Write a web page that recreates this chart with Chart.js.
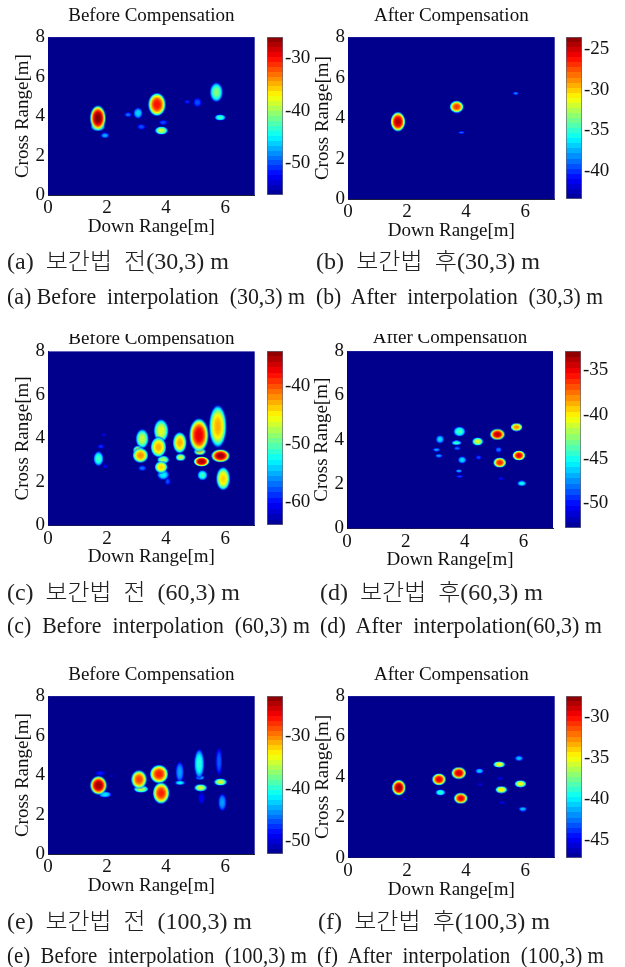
<!DOCTYPE html>
<html>
<head>
<meta charset="utf-8">
<title>ISAR images before and after compensation</title>
<script src="https://cdn.jsdelivr.net/npm/chart.js@4"></script>
<style>
    html, body { margin: 0; padding: 0; background: #fff; }
    body { position: relative; width: 625px; height: 967px; overflow: hidden; }
    canvas { position: absolute; filter: blur(0.4px); }
    .cap {
        position: absolute;
        white-space: pre;
        font-family: "Liberation Serif", "Noto Sans CJK KR", serif;
        font-size: 24px;
        font-weight: 300;
        line-height: 26px;
        color: #1a1a1a;
        transform-origin: left center;
        filter: blur(0.3px);
    }
    .cap.ko { font-size: 23px; color: #222; }
    .cover { position: absolute; background: #fff; }
</style>
</head>
<body>
<script>
// ===========================
// DATA
// ===========================

const downTicks = [0, 2, 4, 6];
const crossTicks = [0, 2, 4, 6, 8];

// Each scatterer: centre [m], half width / half height [m], peak level [dB]
const aX = [1.69, 1.69, 1.93, 2.71, 3.05, 3.16, 3.69, 3.90, 3.84, 4.72, 5.06, 5.70, 5.83];
const aY = [3.90, 3.48, 3.02, 4.07, 4.15, 3.46, 4.59, 3.68, 3.27, 4.73, 4.69, 5.21, 3.93];
const aW = [0.25, 0.22, 0.13, 0.11, 0.14, 0.12, 0.27, 0.14, 0.20, 0.08, 0.13, 0.20, 0.17];
const aH = [0.58, 0.22, 0.12, 0.10, 0.25, 0.12, 0.54, 0.10, 0.19, 0.08, 0.22, 0.46, 0.14];
const aPeak = [-26, -37, -47, -49, -46, -50, -30, -50, -39, -51, -50, -41, -43];
const aBar = [-56, -26];
const aBarTicks = [-30, -40, -50];

const bX = [1.69, 3.68, 3.68, 3.84, 5.68];
const bY = [3.82, 4.56, 4.28, 3.29, 5.23];
const bW = [0.23, 0.22, 0.08, 0.09, 0.10];
const bH = [0.44, 0.27, 0.06, 0.06, 0.06];
const bPeak = [-24.5, -27, -40, -39, -38];
const bBar = [-43.5, -23.5];
const bBarTicks = [-25, -30, -35, -40];

const cX = [1.71, 1.79, 1.89, 1.94, 3.19, 3.05, 3.13, 3.19, 3.83, 3.74, 3.90, 3.83, 3.90, 4.05, 4.46, 4.49, 5.11, 5.14, 5.20, 5.23, 5.75, 5.84, 5.93];
const cY = [3.07, 3.63, 4.17, 2.71, 3.98, 3.45, 3.22, 2.63, 4.35, 3.60, 3.02, 2.68, 2.33, 2.02, 3.80, 3.13, 4.15, 3.40, 2.94, 2.31, 4.55, 3.20, 2.15];
const cW = [0.15, 0.10, 0.05, 0.07, 0.20, 0.16, 0.24, 0.12, 0.23, 0.24, 0.18, 0.20, 0.18, 0.08, 0.22, 0.16, 0.30, 0.19, 0.25, 0.16, 0.27, 0.28, 0.22];
const cH = [0.30, 0.08, 0.06, 0.07, 0.40, 0.18, 0.30, 0.10, 0.49, 0.42, 0.16, 0.24, 0.20, 0.15, 0.45, 0.15, 0.70, 0.14, 0.20, 0.20, 0.90, 0.27, 0.48];
const cPeak = [-51, -59, -61, -60, -47, -45, -42, -57, -46, -43, -48, -44, -53, -58, -43, -47, -37, -45, -35, -51, -43, -35, -44];
const cBar = [-64, -34];
const cBarTicks = [-40, -50, -60];

const dX = [3.16, 3.04, 3.12, 3.82, 3.72, 3.74, 3.91, 3.80, 3.83, 4.44, 4.47, 5.11, 5.15, 5.19, 5.23, 5.76, 5.84, 5.94];
const dY = [4.02, 3.55, 3.28, 4.37, 3.86, 3.61, 3.09, 2.59, 2.35, 3.92, 3.20, 4.24, 3.55, 2.97, 2.26, 4.57, 3.29, 2.03];
const dW = [0.13, 0.11, 0.11, 0.18, 0.15, 0.10, 0.13, 0.10, 0.09, 0.17, 0.08, 0.23, 0.10, 0.20, 0.08, 0.19, 0.20, 0.14];
const dH = [0.17, 0.06, 0.06, 0.20, 0.08, 0.06, 0.14, 0.06, 0.05, 0.17, 0.09, 0.23, 0.10, 0.20, 0.05, 0.17, 0.20, 0.11];
const dPeak = [-46, -47, -47, -44, -44, -48, -46, -47, -49, -41, -49, -34, -48, -36, -50, -38, -35, -45];
const dBar = [-52.8, -32.8];
const dBarTicks = [-35, -40, -45, -50];

const eX = [1.71, 1.77, 2.15, 1.93, 3.08, 3.15, 3.76, 3.83, 4.46, 4.47, 5.12, 5.15, 5.17, 5.20, 5.79, 5.84, 5.90];
const eY = [3.48, 4.10, 3.93, 3.02, 3.78, 3.29, 4.05, 3.09, 4.15, 3.61, 4.57, 3.87, 3.36, 2.84, 4.69, 3.65, 2.62];
const eW = [0.26, 0.15, 0.04, 0.20, 0.25, 0.23, 0.28, 0.26, 0.12, 0.15, 0.16, 0.14, 0.20, 0.10, 0.10, 0.20, 0.12];
const eH = [0.42, 0.10, 0.04, 0.15, 0.42, 0.17, 0.42, 0.50, 0.50, 0.10, 0.70, 0.10, 0.17, 0.27, 0.65, 0.17, 0.40];
const ePeak = [-23, -48, -49, -42, -28, -36, -27, -27, -44, -41, -40, -43, -35, -49, -46, -35, -44];
const eBar = [-52.5, -22.3];
const eBarTicks = [-30, -40, -50];

const fX = [1.72, 1.92, 3.08, 3.13, 3.75, 3.82, 4.45, 4.47, 5.12, 5.15, 5.19, 5.22, 5.79, 5.84, 5.92];
const fY = [3.47, 2.89, 3.88, 3.23, 4.19, 2.94, 4.29, 3.63, 4.62, 3.94, 3.37, 2.71, 4.92, 3.66, 2.41];
const fW = [0.21, 0.05, 0.22, 0.15, 0.23, 0.21, 0.12, 0.07, 0.19, 0.09, 0.18, 0.09, 0.13, 0.18, 0.12];
const fH = [0.35, 0.04, 0.27, 0.14, 0.26, 0.24, 0.11, 0.05, 0.15, 0.05, 0.16, 0.05, 0.11, 0.16, 0.10];
const fPeak = [-28, -45, -29.5, -39, -29, -29.5, -41, -45, -35, -45, -34.5, -45, -41, -35, -41];
const fBar = [-47.2, -27.4];
const fBarTicks = [-30, -35, -40, -45];

// ===========================
// LAYOUT
// ===========================

const FONT = '"Liberation Serif", serif';
const FONT_SIZE = 19;
const TEXT = '#111';
const AXIS_W = 48;
const AXIS_H = 44;
const TITLE_H = 22.8;
const BAR_AXIS_W = 40;
const BAR_PAD = 14;
const SPOT_GROW = 1.15;

const panels = [
    { title: 'Before Compensation', left: 48.3, top: 36.7, w: 206.7, h: 158, barLeft: 266.5, gap: 9.3, xs: aX, ys: aY, ws: aW, hs: aH, peaks: aPeak, bar: aBar, barTicks: aBarTicks },
    { title: 'After Compensation', left: 348.3, top: 36.7, w: 206.7, h: 162, barLeft: 566.3, gap: 9.3, xs: bX, ys: bY, ws: bW, hs: bH, peaks: bPeak, bar: bBar, barTicks: bBarTicks },
    { title: 'Before Compensation', left: 48.3, top: 351, w: 206.7, h: 174, barLeft: 266.5, gap: 0.6, xs: cX, ys: cY, ws: cW, hs: cH, peaks: cPeak, bar: cBar, barTicks: cBarTicks },
    { title: 'After Compensation', left: 347.3, top: 351, w: 206.4, h: 177.3, barLeft: 565.3, gap: 1.3, xs: dX, ys: dY, ws: dW, hs: dH, peaks: dPeak, bar: dBar, barTicks: dBarTicks },
    { title: 'Before Compensation', left: 48.3, top: 695.7, w: 206.7, h: 158, barLeft: 266.5, gap: 9.3, xs: eX, ys: eY, ws: eW, hs: eH, peaks: ePeak, bar: eBar, barTicks: eBarTicks },
    { title: 'After Compensation', left: 348.3, top: 695.7, w: 206.7, h: 161.6, barLeft: 566.3, gap: 9.3, xs: fX, ys: fY, ws: fW, hs: fH, peaks: fPeak, bar: fBar, barTicks: fBarTicks }
];

const captions = [
    { text: '(a)  보간법  전(30,3) m', left: 7, y: 262, right: 229, ko: true },
    { text: '(a) Before  interpolation  (30,3) m', left: 7, y: 296, right: 305 },
    { text: '(b)  보간법  후(30,3) m', left: 316, y: 262, right: 540, ko: true },
    { text: '(b)  After  interpolation  (30,3) m', left: 316, y: 296, right: 603 },
    { text: '(c)  보간법  전  (60,3) m', left: 7, y: 593, right: 240, ko: true },
    { text: '(c)  Before  interpolation  (60,3) m', left: 7, y: 625, right: 310 },
    { text: '(d)  보간법  후(60,3) m', left: 320, y: 593, right: 543, ko: true },
    { text: '(d)  After  interpolation(60,3) m', left: 320, y: 625, right: 602 },
    { text: '(e)  보간법  전  (100,3) m', left: 7, y: 922, right: 252, ko: true },
    { text: '(e)  Before  interpolation  (100,3) m', left: 7, y: 955, right: 307 },
    { text: '(f)  보간법  후(100,3) m', left: 318, y: 922, right: 550, ko: true },
    { text: '(f)  After  interpolation  (100,3) m', left: 317, y: 955, right: 604 }
];

// ===========================
// COLORMAP
// ===========================

const JET_STOPS = [
    [0, 0, 0, 143],
    [0.125, 0, 0, 255],
    [0.375, 0, 255, 255],
    [0.625, 255, 255, 0],
    [0.875, 255, 0, 0],
    [1, 128, 0, 0]
];
const BAND_COUNT = 32;

function jet(t) {
    t = Math.min(1, Math.max(0, t));
    for (let i = 1; i < JET_STOPS.length; i++) {
        const a = JET_STOPS[i - 1];
        const b = JET_STOPS[i];
        if (t <= b[0]) {
            const k = (t - a[0]) / (b[0] - a[0]);
            return [1, 2, 3].map(c => Math.round(a[c] + (b[c] - a[c]) * k));
        }
    }
    return [128, 0, 0];
}

// ===========================
// SCATTERER SPRITES
// ===========================

// Elliptic spot coloured by its level, used as the point style
function spotSprite(pxW, pxH, peak) {
    const w = Math.max(2, Math.ceil(pxW * 2 * SPOT_GROW));
    const h = Math.max(2, Math.ceil(pxH * 2 * SPOT_GROW));
    const sprite = document.createElement('canvas');
    sprite.width = w;
    sprite.height = h;
    const g = sprite.getContext('2d');
    const img = g.createImageData(w, h);
    for (let j = 0; j < h; j++) {
        for (let i = 0; i < w; i++) {
            const dx = (i + 0.5 - w / 2) / (w / 2);
            const dy = (j + 0.5 - h / 2) / (h / 2);
            const r = Math.sqrt(dx * dx + dy * dy);
            if (r >= 1) continue;
            const t = peak * (1 - r * r * r);
            const rgb = jet(Math.round(t * 64) / 64);
            const p = (j * w + i) * 4;
            img.data[p] = rgb[0];
            img.data[p + 1] = rgb[1];
            img.data[p + 2] = rgb[2];
            // soft rim, so a spot does not cut a dark ring into its neighbour
            img.data[p + 3] = Math.min(255, 255 * (1 - r) / 0.18);
        }
    }
    g.putImageData(img, 0, 0);
    return sprite;
}

// ===========================
// CHARTS
// ===========================

const plotBackground = {
    id: 'plotBackground',
    beforeDatasetsDraw(chart) {
        const a = chart.chartArea;
        chart.ctx.save();
        chart.ctx.fillStyle = 'rgb(0, 0, 140)';
        chart.ctx.fillRect(a.left, a.top, a.width, a.height);
        chart.ctx.restore();
    }
};

function addCanvas(left, top, width, height) {
    const canvas = document.createElement('canvas');
    canvas.width = Math.round(width);
    canvas.height = Math.round(height);
    canvas.style.left = left + 'px';
    canvas.style.top = top + 'px';
    document.body.appendChild(canvas);
    return canvas;
}

function drawPanel(p) {
    const topSpace = TITLE_H + p.gap;
    const canvas = addCanvas(p.left - AXIS_W, p.top - topSpace, AXIS_W + p.w + 6, topSpace + p.h + AXIS_H);
    const rightPad = canvas.width - AXIS_W - p.w;
    const bottomSpace = canvas.height - topSpace - p.h;

    // weakest spots first so stronger ones lie on top
    const order = p.peaks.map((v, i) => i).sort((i, j) => p.peaks[i] - p.peaks[j]);
    const span = p.bar[1] - p.bar[0];

    new Chart(canvas, {
        type: 'scatter',
        plugins: [plotBackground],
        data: {
            datasets: [{
                data: order.map(i => ({ x: p.xs[i], y: p.ys[i] })),
                pointRadius: 5,
                pointStyle: function (ctx) {
                    if (ctx.dataIndex === undefined) return 'circle';
                    const i = order[ctx.dataIndex];
                    const sx = ctx.chart.scales.x;
                    const sy = ctx.chart.scales.y;
                    const pxW = Math.abs(sx.getPixelForValue(p.ws[i]) - sx.getPixelForValue(0));
                    const pxH = Math.abs(sy.getPixelForValue(p.hs[i]) - sy.getPixelForValue(0));
                    // scales have no pixel size until the first layout is done
                    if (!isFinite(pxW) || !isFinite(pxH)) return 'circle';
                    return spotSprite(pxW, pxH, (p.peaks[i] - p.bar[0]) / span);
                }
            }]
        },
        options: {
            responsive: false,
            animation: false,
            events: [],
            layout: { padding: { left: 0, right: rightPad, top: 0, bottom: 0 } },
            plugins: {
                legend: { display: false },
                tooltip: { enabled: false },
                title: {
                    display: true,
                    text: p.title,
                    color: TEXT,
                    fullSize: false,
                    font: { family: FONT, size: FONT_SIZE, weight: 'normal', lineHeight: 1.2 },
                    padding: { top: 0, bottom: p.gap }
                }
            },
            scales: {
                x: {
                    type: 'linear',
                    min: 0,
                    max: 7,
                    grid: { display: false, drawTicks: false },
                    border: { color: '#223' },
                    afterBuildTicks: s => { s.ticks = downTicks.map(v => ({ value: v })); },
                    afterFit: s => { s.height = bottomSpace; s.paddingLeft = 0; s.paddingRight = 0; },
                    ticks: {
                        color: TEXT,
                        maxRotation: 0,
                        autoSkip: false,
                        padding: 2,
                        font: { family: FONT, size: FONT_SIZE }
                    },
                    title: {
                        display: true,
                        text: 'Down Range[m]',
                        color: TEXT,
                        font: { family: FONT, size: FONT_SIZE, lineHeight: 1.2 },
                        padding: { top: 0, bottom: 0.3 }
                    }
                },
                y: {
                    type: 'linear',
                    min: 0,
                    max: 8,
                    grid: { display: false, drawTicks: false },
                    border: { color: '#223' },
                    afterBuildTicks: s => { s.ticks = crossTicks.map(v => ({ value: v })); },
                    afterFit: s => { s.width = AXIS_W; s.paddingTop = 0; s.paddingBottom = 0; },
                    ticks: {
                        color: TEXT,
                        autoSkip: false,
                        padding: 3,
                        font: { family: FONT, size: FONT_SIZE }
                    },
                    title: {
                        display: true,
                        text: 'Cross Range[m]',
                        color: TEXT,
                        font: { family: FONT, size: FONT_SIZE, lineHeight: 1.2 },
                        padding: { top: 11.6, bottom: 0 }
                    }
                }
            }
        }
    });
}

function bandGradient(chart) {
    const a = chart.chartArea;
    if (!a) return '#000';
    const grad = chart.ctx.createLinearGradient(0, a.bottom, 0, a.top);
    for (let b = 0; b < BAND_COUNT; b++) {
        const rgb = jet((b + 0.5) / BAND_COUNT);
        const color = 'rgb(' + rgb.join(',') + ')';
        grad.addColorStop(b / BAND_COUNT, color);
        grad.addColorStop((b + 1) / BAND_COUNT, color);
    }
    return grad;
}

function drawColorbar(p) {
    const canvas = addCanvas(p.barLeft, p.top - BAR_PAD, 15.5 + BAR_AXIS_W, p.h + BAR_PAD * 2);
    new Chart(canvas, {
        type: 'bar',
        data: {
            labels: ['level'],
            datasets: [{
                data: [p.bar],
                barPercentage: 1,
                categoryPercentage: 1,
                backgroundColor: ctx => bandGradient(ctx.chart),
                borderColor: '#667',
                borderWidth: 1,
                borderSkipped: false
            }]
        },
        options: {
            responsive: false,
            animation: false,
            events: [],
            layout: { padding: { top: BAR_PAD, bottom: BAR_PAD, left: 0, right: 0 } },
            plugins: {
                legend: { display: false },
                tooltip: { enabled: false }
            },
            scales: {
                x: { display: false },
                y: {
                    position: 'right',
                    min: p.bar[0],
                    max: p.bar[1],
                    grid: { display: false, drawTicks: false },
                    border: { display: false },
                    afterBuildTicks: s => { s.ticks = p.barTicks.map(v => ({ value: v })); },
                    afterFit: s => { s.width = BAR_AXIS_W; s.paddingTop = 0; s.paddingBottom = 0; },
                    ticks: {
                        color: TEXT,
                        autoSkip: false,
                        padding: 2,
                        font: { family: FONT, size: FONT_SIZE }
                    }
                }
            }
        }
    });
}

// ===========================
// CAPTIONS
// ===========================

function drawCaption(c) {
    const div = document.createElement('div');
    div.className = c.ko ? 'cap ko' : 'cap';
    div.textContent = c.text;
    div.style.left = c.left + 'px';
    div.style.top = (c.y - 13) + 'px';
    document.body.appendChild(div);
    const scale = (c.right - c.left) / div.getBoundingClientRect().width;
    div.style.transform = 'scaleX(' + scale + ')';
}

// the second row of titles is cropped in the source
function addCover(left, top, width, height) {
    const div = document.createElement('div');
    div.className = 'cover';
    div.style.cssText = 'left:' + left + 'px;top:' + top + 'px;width:' + width + 'px;height:' + height + 'px';
    document.body.appendChild(div);
}

panels.forEach(p => {
    drawPanel(p);
    drawColorbar(p);
});
captions.forEach(drawCaption);
addCover(60, 325, 500, 8.5);
addCover(60, 345.5, 190, 5.5);
addCover(365, 345.5, 180, 5.5);
</script>
</body>
</html>
